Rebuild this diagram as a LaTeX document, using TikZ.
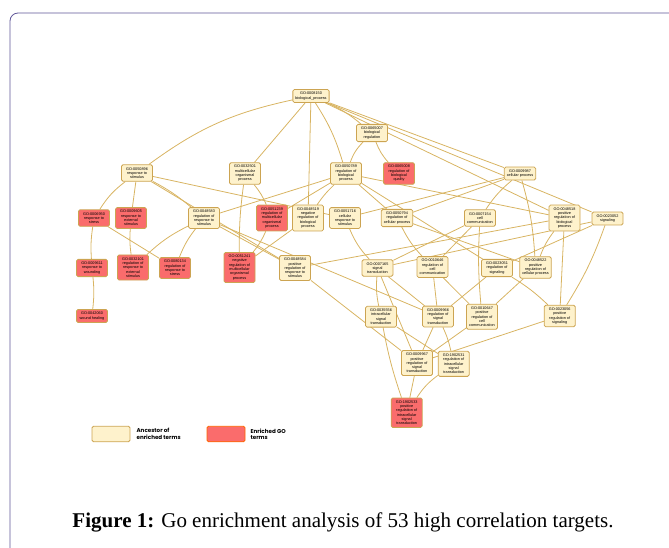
\documentclass[tikz,border=0pt]{standalone}
\usepackage{fontspec}
\setmainfont{Liberation Serif}
\setsansfont{Liberation Sans}
\newfontfamily\keyfont{Poppins}
\usetikzlibrary{positioning}
\definecolor{cream}{HTML}{FEF2CC}
\definecolor{gold}{HTML}{CCA452}
\definecolor{wire}{HTML}{D8B462}
\definecolor{salmon}{HTML}{FA6C6C}
\definecolor{framecol}{HTML}{5E5497}
\pgfdeclarelayer{background}
\pgfsetlayers{background,main}
\tikzstyle{anc} = [draw=gold,fill=cream,rounded corners=1.5pt,line width=0.8pt,align=center,font=\sffamily\fontsize{3.8}{4.3}\selectfont,inner xsep=2.5pt,inner ysep=2.6pt,minimum width=31pt]
\tikzstyle{enr} = [anc,fill=salmon]
\tikzstyle{link} = [draw=wire,line width=0.8pt]
\tikzstyle{keytext} = [font=\keyfont\bfseries\fontsize{5.6}{6.4}\selectfont,align=left,anchor=west,inner sep=0pt]

\begin{document}
\begin{tikzpicture}[x=1pt,y=-1pt]

    \useasboundingbox (0,0) rectangle (669,547);
    \begin{scope}
        \clip (0,0) rectangle (669,547);
        \draw[framecol,line width=0.8pt,rounded corners=8pt] (10,13) rectangle (700,580);
    \end{scope}

% GO terms, top to bottom

    \node[anc] at (311,96) (bp) {GO:0008150\\biological\_process};
    \node[anc] at (372,133) (breg) {GO:0065007\\biological\\regulation};

    \node[anc] at (137,173) (rs) {GO:0050896\\response to\\stimulus};
    \node[anc] at (245,173.5) (mop) {GO:0032501\\multicellular\\organismal\\process};
    \node[anc] at (346,173.5) (rbp) {GO:0050789\\regulation of\\biological\\process};
    \node[enr] at (399,173.5) (rbq) {GO:0065008\\regulation of\\biological\\quality};
    \node[anc] at (520,173.5) (cp) {GO:0009987\\cellular process};

    \node[enr] at (94,218) (stress) {GO:0006950\\response to\\stress};
    \node[enr] at (131,218) (ext) {GO:0009605\\response to\\external\\stimulus};
    \node[anc] at (204,218) (rrs) {GO:0048583\\regulation of\\response to\\stimulus};
    \node[enr] at (272,218) (rmop) {GO:0051239\\regulation of\\multicellular\\organismal\\process};
    \node[anc] at (308,218) (nrbp) {GO:0048519\\negative\\regulation of\\biological\\process};
    \node[anc] at (345,218) (crs) {GO:0051716\\cellular\\response to\\stimulus};
    \node[anc] at (397,218) (rcp) {GO:0050794\\regulation of\\cellular process};
    \node[anc] at (480,218) (cc) {GO:0007154\\cell\\communication};
    \node[anc] at (564.5,218) (prbp) {GO:0048518\\positive\\regulation of\\biological\\process};
    \node[anc] at (607.5,218.5) (sig) {GO:0023052\\signaling};

    \node[enr] at (92,268) (wound) {GO:0009611\\response to\\wounding};
    \node[enr] at (133,267.5) (rrext) {GO:0032101\\regulation of\\response to\\external\\stimulus};
    \node[enr] at (175,268) (rrstress) {GO:0080134\\regulation of\\response to\\stress};
    \node[enr] at (239.5,267.5) (nrmop) {GO:0051241\\negative\\regulation of\\multicellular\\organismal\\process};
    \node[anc] at (295,268) (prrs) {GO:0048584\\positive\\regulation of\\response to\\stimulus};
    \node[anc] at (377.5,268) (st) {GO:0007165\\signal\\transduction};
    \node[anc] at (432.5,267) (rcc) {GO:0010646\\regulation of\\cell\\communication};
    \node[anc] at (497,268) (rsig) {GO:0023051\\regulation of\\signaling};
    \node[anc] at (535.5,267.5) (prcp) {GO:0048522\\positive\\regulation of\\cellular process};

    \node[enr] at (92,316) (heal) {GO:0042060\\wound healing};
    \node[anc] at (381,316.7) (ist) {GO:0035556\\intracellular\\signal\\transduction};
    \node[anc] at (438,316.5) (rst) {GO:0009966\\regulation of\\signal\\transduction};
    \node[anc] at (482,316.7) (prcc) {GO:0010647\\positive\\regulation of\\cell\\communication};
    \node[anc] at (559.7,316) (psig) {GO:0023056\\positive\\regulation of\\signaling};

    \node[anc] at (417,363) (prst) {GO:0009967\\positive\\regulation of\\signal\\transduction};
    \node[anc] at (453.7,363.8) (rist) {GO:1902531\\regulation of\\intracellular\\signal\\transduction};
    \node[enr] at (406.7,412.7) (prist) {GO:1902533\\positive\\regulation of\\intracellular\\signal\\transduction};

% Links, behind the boxes

    \begin{pgfonlayer}{background}
    \draw[link] (bp) to[bend right=12] (rs);
    \draw[link] (bp) -- (mop);
    \draw[link] (bp) -- (nrbp);
    \draw[link] (bp) to[bend left=8] (rbp);
    \draw[link] (bp) to[bend left=8] (breg);
    \draw[link] (bp) -- (cp);
    \draw[link] (bp) -- (prbp);
    \draw[link] (bp) -- (sig);
    \draw[link] (breg) to[bend right=12] (rbp);
    \draw[link] (breg) to[bend right=10] (rbq);

    \draw[link] (rs) to[bend right=10] (stress);
    \draw[link] (rs) -- (ext);
    \draw[link] (rs) to[bend left=6] (rrs);
    \draw[link] (rs) -- (prrs);
    \draw[link] (rs) -- (crs);
    \draw[link] (mop) to[bend left=8] (rmop);
    \draw[link] (mop) to[bend right=4] (nrmop);
    \draw[link] (rbp) -- (rrs);
    \draw[link] (rbp) -- (rmop);
    \draw[link] (rbp) to[bend right=6] (nrbp);
    \draw[link] (rbp) -- (rcp);
    \draw[link] (rbp) -- (prbp);
    \draw[link] (rbp) -- (rsig);
    \draw[link] (cp) -- (crs);
    \draw[link] (cp) -- (rcp);
    \draw[link] (cp) to[bend right=8] (cc);
    \draw[link] (cp) to[bend left=6] (prcp);

    \draw[link] (stress) to[bend right=6] (wound);
    \draw[link] (stress) -- (rrstress);
    \draw[link] (ext) to[bend right=6] (rrext);
    \draw[link] (rrs) to[bend right=8] (rrext);
    \draw[link] (rrs) to[bend right=8] (rrstress);
    \draw[link] (rrs) -- (prrs);
    \draw[link] (rrs) -- (rst);
    \draw[link] (rmop) to[bend left=8] (nrmop);
    \draw[link] (nrbp) -- (nrmop);
    \draw[link] (crs) to[bend right=10] (st);
    \draw[link] (rcp) to[bend right=8] (rcc);
    \draw[link] (rcp) -- (prcp);
    \draw[link] (cc) -- (st);
    \draw[link] (cc) -- (rcc);
    \draw[link] (cc) to[bend right=4] (prcc);
    \draw[link] (sig) -- (st);
    \draw[link] (sig) -- (rsig);
    \draw[link] (sig) to[bend left=6] (psig);
    \draw[link] (prbp) -- (prrs);
    \draw[link] (prbp) to[bend right=8] (prcp);
    \draw[link] (prbp) -- (psig);

    \draw[link] (wound) to[bend left=6] (heal);
    \draw[link] (st) to[bend right=8] (ist);
    \draw[link] (st) -- (rst);
    \draw[link] (st) -- (prst);
    \draw[link] (rcc) -- (rst);
    \draw[link] (rcc) -- (prcc);
    \draw[link] (rsig) -- (rst);
    \draw[link] (rsig) to[bend left=6] (psig);
    \draw[link] (prcp) -- (prcc);
    \draw[link] (prrs) -- (prst);
    \draw[link] (ist) to[bend right=4] (prist);
    \draw[link] (ist) -- (rist);
    \draw[link] (rst) -- (prst);
    \draw[link] (rst) to[bend left=6] (rist);
    \draw[link] (prcc) -- (prst);
    \draw[link] (psig) -- (prst);
    \draw[link] (prst) -- (prist);
    \draw[link] (rist) to[bend right=10] (prist);
    \end{pgfonlayer}

% Key and caption

    \node[anc,minimum width=38pt,minimum height=15.5pt] at (111,434) (keyanc) {};
    \node[keytext,right=6pt of keyanc] (keyanctext) {Ancestor of\\enriched terms};
    \node[enr,draw=orange!80!red,minimum width=38pt,minimum height=15.5pt] at (226,434) (keyenr) {};
    \node[keytext,right=5pt of keyenr] (keyenrtext) {Enriched GO\\terms};

    \node[font=\fontsize{21}{24}\selectfont] at (343,522) (caption) {\textbf{Figure 1:} Go enrichment analysis of 53 high correlation targets.};

\end{tikzpicture}
\end{document}
